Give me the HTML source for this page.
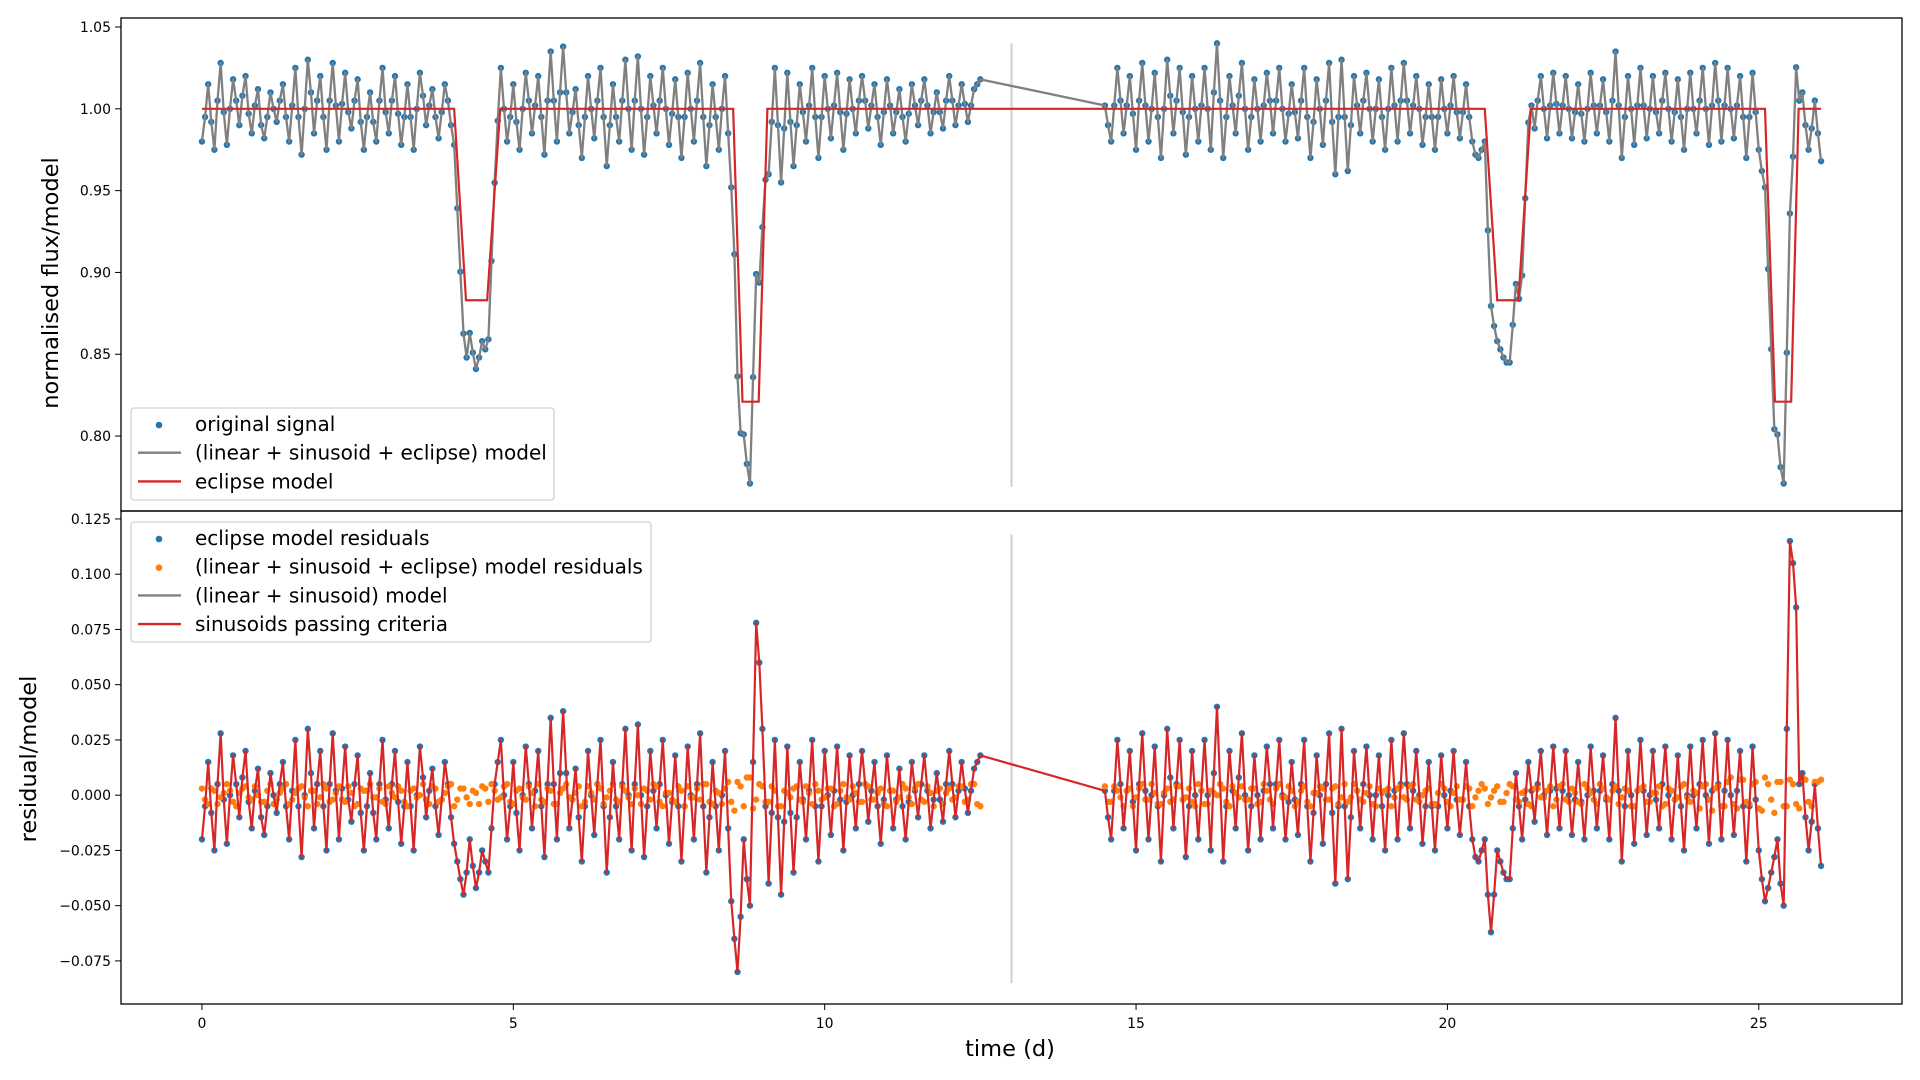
<!DOCTYPE html>
<html><head><meta charset="utf-8">
<style>
html,body{margin:0;padding:0;background:#fff;}
svg{display:block;font-family:"DejaVu Sans","Liberation Sans",sans-serif;}
</style></head>
<body>
<svg id="chart" width="1920" height="1080" viewBox="0 0 1920 1080" xmlns="http://www.w3.org/2000/svg">
<rect x="0" y="0" width="1920" height="1080" fill="#fff"/>
<g id="top-plot"></g>
<g id="bot-plot"></g>
<g id="axes"></g>
</svg>
<script>
// ---- data ----
const seg1Start = 0.0, seg2Start = 14.5, cadence = 0.1, halfOffset = 0.05;
const resid1 = [-20,15,-25,28,-22,18,-10,20,-15,12,
-18,10,-8,15,-20,25,-28,30,-15,20,
-25,28,-20,22,-12,18,-25,10,-20,25,
-15,20,-22,15,-25,22,-10,12,-18,15,
-10,-30,-45,-20,-42,-25,-35,5,25,-20,
15,-25,22,-15,20,-28,35,-20,38,-15,
12,-30,20,-18,25,-35,15,-20,30,-25,
32,-28,20,-15,25,-22,18,-30,22,-20,
28,-35,15,-25,20,-48,-80,-20,-50,78,
30,-40,25,-45,22,-35,15,-20,25,-30,
20,-18,22,-25,18,-15,20,-12,15,-22,
18,-15,12,-20,15,-10,18,-15,10,-12,
20,-10,15,-8,12,18];
const resid1h = [-5,-8,5,-2,0,5,8,-3,2,-10,
-5,0,5,-5,2,-5,0,10,5,-5,
5,2,3,-2,5,-8,-5,-8,5,-2,
5,-3,-5,-5,0,8,2,-5,-2,5,
-22,-38,-35,-32,-35,-30,-15,15,0,-5,
-8,0,5,2,-5,5,5,10,10,-2,
-10,-5,0,5,-5,-10,-5,5,0,5,
0,-5,2,5,0,-3,-5,-5,0,5,
-5,-10,-5,0,-15,-65,-55,-38,15,60,
-5,-8,-10,-12,-8,-10,-2,2,-5,-5,
0,2,-2,-3,0,5,5,2,-5,-2,
2,-2,-5,-3,2,5,2,-2,-2,5,
5,2,3,2,15];
const resid2 = [2,-20,25,-15,20,
-25,28,-20,22,-30,30,-15,25,-28,20,
-20,25,-25,40,-30,20,-15,28,-25,18,
-20,22,-15,25,-20,15,-18,25,-30,18,
-22,28,-40,30,-38,20,-15,22,-20,18,
-25,25,-20,28,-15,20,-22,15,-25,18,
-15,20,-18,15,-20,-30,-20,-62,-25,-35,
-38,10,-20,15,-12,20,-18,22,-15,20,
-18,15,-20,22,-15,18,-20,35,-30,20,
-22,25,-18,20,-15,22,-20,18,-25,22,
-15,25,-22,28,-20,25,-18,20,-30,22,
-25,-48,-35,-20,-50,115,85,10,-25,5,
-32];
const resid2h = [-10,2,5,2,-3,
5,2,0,-5,0,8,5,-2,-5,0,
2,0,10,5,-5,2,8,0,-5,0,
2,5,5,0,-3,-2,5,-5,-8,0,
5,-8,-5,-5,-10,2,5,0,0,-5,
0,2,5,5,2,0,-5,-5,-5,0,
2,-2,-2,-5,-28,-25,-45,-45,-30,-38,
-15,-5,-2,2,5,0,2,3,2,0,
-2,-3,0,2,2,-2,5,2,-5,0,
2,2,0,-2,5,0,-2,-5,0,0,
5,0,2,5,2,0,2,-5,-5,-2,
-38,-42,-28,-40,30,105,5,-10,-12,-15];
const full1 = [3,-4,2,-1,5,-3,1,4,-2,0,
-3,5,-2,3,-4,1,4,-5,2,-1,
3,-2,4,-3,1,-4,2,5,-1,-3,
4,-1,2,-5,3,0,-2,4,-3,1,
5,-2,3,-4,1,4,-3,2,-1,5,
-4,3,-2,1,5,-3,2,-4,3,-1,
1,-5,4,-2,3,-1,5,-3,2,-4,
0,3,-2,4,-5,1,-3,2,4,-1,
-2,5,-4,1,3,-3,6,-5,8,-2,
4,-3,2,-5,1,3,-2,4,-4,2,
-1,3,-4,5,-2,1,-3,4,-2,3,
-5,2,-1,3,-4,5,-3,1,2,-4,
3,-1,4,-2,5,-5];
const full1h = [-2,3,-4,1,2,-5,3,-1,4,-3,
2,-4,1,5,-2,3,-1,2,-4,5,
-3,1,-2,4,-5,3,2,-1,3,-4,
1,4,-3,2,-1,5,-4,3,-2,4,
-5,3,-1,2,-4,3,5,-2,4,-3,
2,-1,4,-5,-2,3,-4,1,5,-2,
4,-3,1,5,-4,2,-2,4,-1,3,
-4,2,5,-3,1,-2,4,-5,-1,3,
5,-3,2,-4,6,-7,4,8,-6,5,
-3,4,-5,2,-1,4,-3,1,5,-2,
3,-5,2,-1,4,-3,5,-2,1,-4,
2,-3,5,-1,3,-2,4,-5,3,1,
-2,4,-3,5,-4];
const full2 = [4,-3,2,-5,3,-1,5,-2,1,-4,
3,-2,4,-1,-3,5,-4,2,0,3,
-5,1,4,-2,3,-3,2,-4,5,-1,
2,-3,4,-5,1,3,-2,4,-1,-3,
5,-2,1,-4,3,2,-5,3,-1,4,
-2,0,3,-4,5,-3,1,-2,4,-5,
2,3,-1,4,-3,5,-2,1,-4,3,
-1,2,-5,4,-2,3,-3,5,1,-4,
3,-2,4,-1,2,-5,3,-3,1,4,
-4,2,-1,5,-3,1,4,-2,3,-5,
6,-4,7,-3,5,-6,8,-2,6,-5,
7,-4,8,-3,6,7];
const full2h = [-3,4,-1,2,-5,
3,-2,5,-4,1,-3,4,-2,3,-5,
2,-4,1,5,-3,4,-1,-2,3,-4,
5,-2,3,-1,4,-5,2,-3,1,4,
-2,3,-4,5,-1,2,-3,4,-5,1,
3,-1,4,-2,5,-3,2,-4,1,3,
-5,4,-2,3,-1,5,-4,2,-3,1,
4,-3,2,-5,3,-1,4,-2,5,-3,
1,-4,3,-2,5,-1,2,-4,3,-5,
2,4,-3,1,-5,3,-2,4,-1,2,
-6,5,-7,4,-5,8,-6,7,-4,6,
-7,5,-8,6,-5,5,-6,7,-5,6];
const eclStart = [4.05, 8.53, 20.6, 25.1];
const eclFlatStart = [4.24, 8.68, 20.8, 25.26];
const eclFlatEnd = [4.58, 8.94, 21.14, 25.52];
const eclEnd = [4.79, 9.08, 21.34, 25.64];
const eclDepth = [0.883, 0.821, 0.883, 0.821];
const xTicks = [0,5,10,15,20,25];
const topTicks = [1.05,1.00,0.95,0.90,0.85,0.80];
const topTickLabels = ["1.05","1.00","0.95","0.90","0.85","0.80"];
const botTicks = [0.125,0.100,0.075,0.050,0.025,0.000,-0.025,-0.050,-0.075];
const botTickLabels = ["0.125","0.100","0.075","0.050","0.025","0.000","\u22120.025","\u22120.050","\u22120.075"];
const gapT = 13, topVRange = [0.769, 1.040], botVRange = [-0.085, 0.118];

(function(){
const L=121, R=1902, T=18, MID=511, B=1004;
const xDom=[-1.3,27.3], topDom=[0.7542,1.0555], botDom=[-0.0945,0.1286];
const X=t=>L+(t-xDom[0])/(xDom[1]-xDom[0])*(R-L);
const YT=v=>MID-(v-topDom[0])/(topDom[1]-topDom[0])*(MID-T);
const YB=v=>B-(v-botDom[0])/(botDom[1]-botDom[0])*(B-MID);
const NS="http://www.w3.org/2000/svg";
function mk(tag,attrs,parent){const e=document.createElementNS(NS,tag);for(const k in attrs)e.setAttribute(k,attrs[k]);parent.appendChild(e);return e;}
function ecl(t){
  for(let i=0;i<eclStart.length;i++){
    if(t>eclStart[i]&&t<eclEnd[i]){
      if(t<eclFlatStart[i]) return 1-(1-eclDepth[i])*(t-eclStart[i])/(eclFlatStart[i]-eclStart[i]);
      if(t<=eclFlatEnd[i]) return eclDepth[i];
      return eclDepth[i]+(1-eclDepth[i])*(t-eclFlatEnd[i])/(eclEnd[i]-eclFlatEnd[i]);
    }
  }
  return 1;
}
const pts=[];
resid1.forEach((r,i)=>pts.push({t:seg1Start+i*cadence,r:r/1000,f:(full1[i]||0)/1000}));
resid1h.forEach((r,i)=>pts.push({t:seg1Start+halfOffset+i*cadence,r:r/1000,f:(full1h[i]||0)/1000}));
resid2.forEach((r,i)=>pts.push({t:seg2Start+i*cadence,r:r/1000,f:(full2[i]||0)/1000}));
resid2h.forEach((r,i)=>pts.push({t:seg2Start+halfOffset+i*cadence,r:r/1000,f:(full2h[i]||0)/1000}));
pts.sort((a,b)=>a.t-b.t);
pts.forEach(p=>{p.s=ecl(p.t)+p.r;});

const topG=document.getElementById('top-plot'), botG=document.getElementById('bot-plot'), ax=document.getElementById('axes');
let g=mk('line',{x1:X(gapT),x2:X(gapT),y1:YT(topVRange[0]),y2:YT(topVRange[1]),stroke:'#d3d3d3','stroke-width':2.2},topG);


g=mk('line',{x1:X(gapT),x2:X(gapT),y1:YB(botVRange[0]),y2:YB(botVRange[1]),stroke:'#d3d3d3','stroke-width':2.2},botG);



const gTopDots=mk('g',{fill:'#1f77b4'},topG);


pts.forEach(p=>{const c=mk('circle',{cx:X(p.t),cy:YT(p.s),r:3.2},gTopDots);

});
let gl=mk('polyline',{points:pts.map(p=>X(p.t)+','+YT(p.s)).join(' '),fill:'none',stroke:'#808080','stroke-width':2.3,'stroke-linejoin':'round'},topG);


const ePts=[[0,1]];
eclStart.forEach((s,i)=>{ePts.push([s,1],[eclFlatStart[i],eclDepth[i]],[eclFlatEnd[i],eclDepth[i]],[eclEnd[i],1]);});
ePts.push([26,1]);
let el=mk('polyline',{points:ePts.map(p=>X(p[0])+','+YT(p[1])).join(' '),fill:'none',stroke:'#d62728','stroke-width':2.2},topG);



const gBD=mk('g',{fill:'#1f77b4'},botG);


pts.forEach(p=>{const c=mk('circle',{cx:X(p.t),cy:YB(p.r),r:3.2},gBD);

});
const gOD=mk('g',{fill:'#ff7f0e'},botG);


pts.forEach(p=>{const c=mk('circle',{cx:X(p.t),cy:YB(p.f),r:3.2},gOD);

});
let rl=mk('polyline',{points:pts.map(p=>X(p.t)+','+YB(p.r)).join(' '),fill:'none',stroke:'#d62728','stroke-width':2.2,'stroke-linejoin':'round'},botG);



let f=mk('rect',{x:L,y:T,width:R-L,height:MID-T,fill:'none',stroke:'#000','stroke-width':1.3},ax);


f=mk('rect',{x:L,y:MID,width:R-L,height:B-MID,fill:'none',stroke:'#000','stroke-width':1.3},ax);


function tickY(v,lbl,Yf,name){
  const y=Yf(v);
  mk('line',{x1:L-6,x2:L,y1:y,y2:y,stroke:'#000','stroke-width':1},ax);
  const t=mk('text',{x:L-10,y:y+5,'text-anchor':'end','font-size':'14px',fill:'#000'},ax);
  t.textContent=lbl;
  
  
}
topTicks.forEach((v,i)=>tickY(v,topTickLabels[i],YT,'top-y-tick-label'));
botTicks.forEach((v,i)=>tickY(v,botTickLabels[i],YB,'bottom-y-tick-label'));
xTicks.forEach(v=>{const x=X(v);
  mk('line',{x1:x,x2:x,y1:B,y2:B+6,stroke:'#000','stroke-width':1},ax);
  const t=mk('text',{x:x,y:B+24,'text-anchor':'middle','font-size':'14px',fill:'#000'},ax);
  t.textContent=String(v);
  
  
});
function axLabel(txt,x,y,rot,name){
  const attrs={x:x,y:y,'text-anchor':'middle','font-size':'22.5px',fill:'#000'};
  if(rot) attrs.transform=`rotate(-90 ${x} ${y})`;
  const t=mk('text',attrs,ax);
  t.textContent=txt;
  
  
}
axLabel('normalised flux/model',58,283,true,'top-y-axis-title');
axLabel('residual/model',36,759,true,'bottom-y-axis-title');
axLabel('time (d)',1010,1056,false,'x-axis-title');

function legend(x,y,w,h,entries,name){
  const lg=mk('g',{},ax);
  
  
  mk('rect',{x:x,y:y,width:w,height:h,rx:3,fill:'#fff','fill-opacity':0.85,stroke:'#d0d0d0','stroke-width':1.3},lg);
  entries.forEach((e,i)=>{
    const cy=y+16+i*28.7;
    if(e.type==='dot') mk('circle',{cx:x+28,cy:cy+1,r:3.3,fill:e.color},lg);
    else mk('line',{x1:x+7,x2:x+50,y1:cy,y2:cy,stroke:e.color,'stroke-width':2.4},lg);
    const t=mk('text',{x:x+64,y:cy+7,'font-size':'20px',fill:'#000'},lg);
    t.textContent=e.text;
    
    
  });
}
legend(131,408,423,92,[{type:'dot',color:'#1f77b4',text:'original signal'},{type:'line',color:'#808080',text:'(linear + sinusoid + eclipse) model'},{type:'line',color:'#d62728',text:'eclipse model'}],'top-legend');
legend(131,522,520,120,[{type:'dot',color:'#1f77b4',text:'eclipse model residuals'},{type:'dot',color:'#ff7f0e',text:'(linear + sinusoid + eclipse) model residuals'},{type:'line',color:'#808080',text:'(linear + sinusoid) model'},{type:'line',color:'#d62728',text:'sinusoids passing criteria'}],'bottom-legend');
})();
</script>
</body></html>
